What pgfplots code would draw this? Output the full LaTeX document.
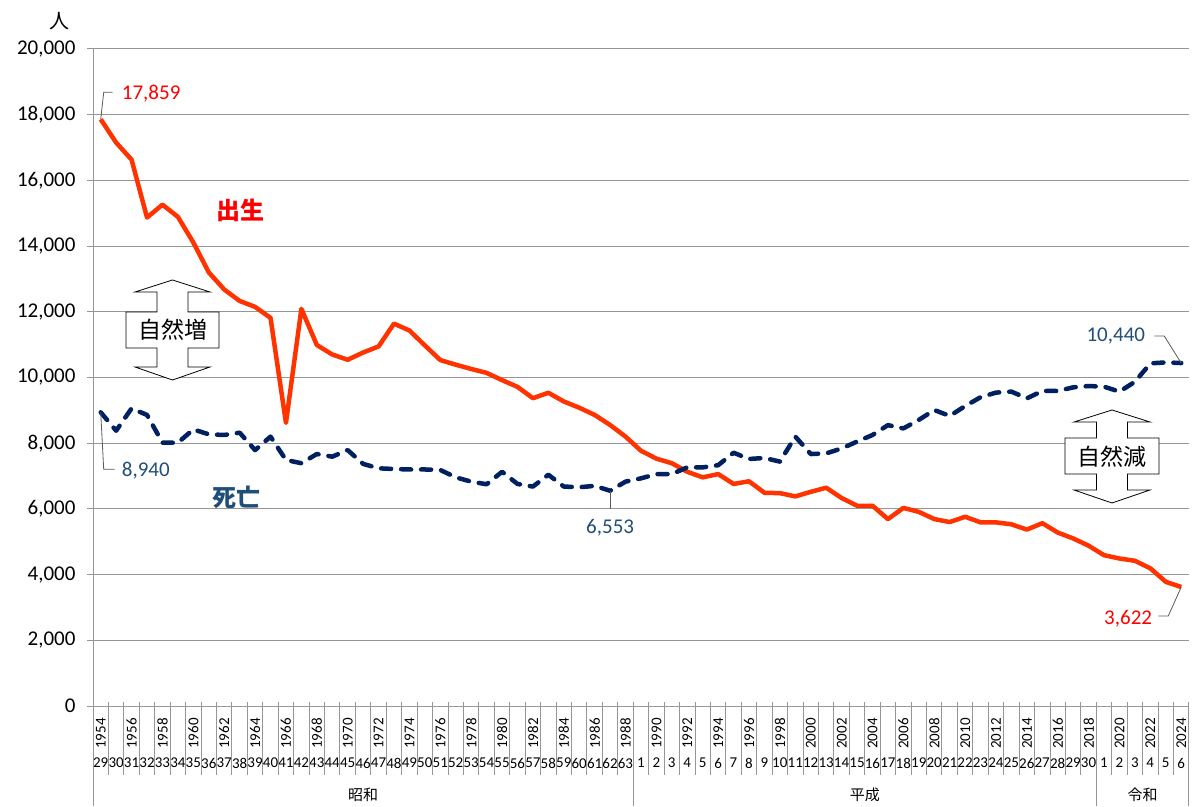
\documentclass[border=0pt]{standalone}
\usepackage{fontspec}
\setmainfont{Carlito}
\newfontfamily\jp{Noto Sans CJK JP}
\usepackage{graphicx}
\usepackage{pgfplots}
\pgfplotsset{compat=1.18}
\usepackage{pgfplotstable}

\definecolor{birthline}{RGB}{255,51,0}
\definecolor{birthtext}{RGB}{255,0,0}
\definecolor{deathline}{RGB}{0,32,96}
\definecolor{deathtext}{RGB}{31,78,121}
\definecolor{gridgray}{RGB}{150,150,150}
\definecolor{leader}{RGB}{90,90,90}

% births per year (1954-2024)
\pgfplotstableread{
year births
1954 17859
1955 17150
1956 16630
1957 14870
1958 15260
1959 14890
1960 14110
1961 13200
1962 12680
1963 12330
1964 12150
1965 11815
1966 8620
1967 12090
1968 10990
1969 10700
1970 10540
1971 10760
1972 10945
1973 11640
1974 11430
1975 10975
1976 10530
1977 10390
1978 10260
1979 10140
1980 9920
1981 9715
1982 9370
1983 9535
1984 9270
1985 9080
1986 8860
1987 8555
1988 8200
1989 7770
1990 7530
1991 7390
1992 7130
1993 6960
1994 7060
1995 6760
1996 6840
1997 6490
1998 6480
1999 6380
2000 6520
2001 6645
2002 6330
2003 6095
2004 6095
2005 5690
2006 6030
2007 5910
2008 5690
2009 5600
2010 5760
2011 5590
2012 5590
2013 5530
2014 5370
2015 5565
2016 5280
2017 5100
2018 4880
2019 4590
2020 4490
2021 4420
2022 4190
2023 3780
2024 3622
}\births

% deaths per year (1954-2024)
\pgfplotstableread{
year deaths
1954 8940
1955 8380
1956 9060
1957 8860
1958 8015
1959 8015
1960 8420
1961 8270
1962 8250
1963 8320
1964 7790
1965 8200
1966 7490
1967 7390
1968 7670
1969 7590
1970 7790
1971 7370
1972 7235
1973 7215
1974 7200
1975 7200
1976 7185
1977 6960
1978 6830
1979 6750
1980 7130
1981 6760
1982 6680
1983 7040
1984 6680
1985 6660
1986 6700
1987 6553
1988 6830
1989 6930
1990 7060
1991 7060
1992 7265
1993 7265
1994 7330
1995 7710
1996 7520
1997 7550
1998 7440
1999 8200
2000 7670
2001 7690
2002 7840
2003 8050
2004 8250
2005 8550
2006 8450
2007 8710
2008 9010
2009 8830
2010 9130
2011 9400
2012 9540
2013 9570
2014 9365
2015 9590
2016 9590
2017 9700
2018 9740
2019 9720
2020 9570
2021 9870
2022 10430
2023 10460
2024 10440
}\deaths

\begin{document}
\begin{tikzpicture}
\path[use as bounding box] (0,0) rectangle (1193pt,806pt);

\begin{axis}[
  at={(93pt,100pt)}, anchor=south west,
  width=1096pt, height=657pt, scale only axis,
  xmin=1953.5, xmax=2024.5,
  ymin=0, ymax=20000,
  clip=false,
  axis lines*=left,
  axis line style={gridgray, line width=1pt},
  ymajorgrids,
  grid style={gridgray, line width=1pt},
  tick align=outside,
  major tick length=6pt,
  ytick={0,2000,...,20000},
  scaled y ticks=false,
  ytick style={gridgray, line width=1pt},
  yticklabel style={font=\fontsize{21}{24}\selectfont, xshift=-8pt,
    /pgf/number format/assume math mode=true,
    /pgf/number format/1000 sep={,}},
  xtick={1954,...,2024},
  xticklabels={29,30,31,32,33,34,35,36,37,38,39,40,41,42,43,44,45,46,47,48,49,50,51,52,53,54,55,56,57,58,59,60,61,62,63,
    1,2,3,4,5,6,7,8,9,10,11,12,13,14,15,16,17,18,19,20,21,22,23,24,25,26,27,28,29,30,
    1,2,3,4,5,6},
  xtick style={draw=none},
  xticklabel style={font=\fontsize{15}{18}\selectfont, anchor=north, inner sep=0pt, yshift=-46pt},
  extra x ticks={1954,1956,...,2024},
  extra x tick labels={\rotatebox{90}{1954},\rotatebox{90}{1956},\rotatebox{90}{1958},\rotatebox{90}{1960},
    \rotatebox{90}{1962},\rotatebox{90}{1964},\rotatebox{90}{1966},\rotatebox{90}{1968},\rotatebox{90}{1970},
    \rotatebox{90}{1972},\rotatebox{90}{1974},\rotatebox{90}{1976},\rotatebox{90}{1978},\rotatebox{90}{1980},
    \rotatebox{90}{1982},\rotatebox{90}{1984},\rotatebox{90}{1986},\rotatebox{90}{1988},\rotatebox{90}{1990},
    \rotatebox{90}{1992},\rotatebox{90}{1994},\rotatebox{90}{1996},\rotatebox{90}{1998},\rotatebox{90}{2000},
    \rotatebox{90}{2002},\rotatebox{90}{2004},\rotatebox{90}{2006},\rotatebox{90}{2008},\rotatebox{90}{2010},
    \rotatebox{90}{2012},\rotatebox{90}{2014},\rotatebox{90}{2016},\rotatebox{90}{2018},\rotatebox{90}{2020},
    \rotatebox{90}{2022},\rotatebox{90}{2024}},
  extra x tick style={grid=none, tick style={draw=none}, xticklabel style={yshift=40pt}},
]

\addplot[birthline, line width=4.5pt, line join=round] table[x=year, y=births] {\births};
\addplot[deathline, line width=4.5pt, line cap=round, line join=round,
  dash pattern=on 10pt off 10pt] table[x=year, y=deaths] {\deaths};

% category separators under the axis
\pgfplotsinvokeforeach{1953.5,1954.5,...,2024.5}{
  \draw[gridgray, line width=1pt] ([yshift=4pt]axis cs:#1,0) -- ([yshift=-69pt]axis cs:#1,0);
}
\pgfplotsinvokeforeach{1953.5,1988.5,2018.5,2024.5}{
  \draw[gridgray, line width=1pt] (axis cs:#1,0) -- ([yshift=-100pt]axis cs:#1,0);
}
\node[font=\jp\fontsize{15}{18}\selectfont] at ([yshift=-89pt]axis cs:1971,0) {昭和};
\node[font=\jp\fontsize{15}{18}\selectfont] at ([yshift=-89pt]axis cs:2003.5,0) {平成};
\node[font=\jp\fontsize{15}{18}\selectfont] at ([yshift=-89pt]axis cs:2021.5,0) {令和};

% value labels with leader lines
\draw[leader, line width=0.8pt] (axis cs:1954,17859) -- ++(3pt,27pt) -- ++(9pt,0pt);
\node[anchor=west, inner sep=0pt, text=birthtext, font=\fontsize{21}{24}\selectfont]
  at ([xshift=21pt,yshift=26pt]axis cs:1954,17859) {17,859};
\draw[leader, line width=0.8pt] (axis cs:1954,8940) -- ++(3pt,-57pt) -- ++(11pt,0pt);
\node[anchor=west, inner sep=0pt, text=deathtext, font=\fontsize{21}{24}\selectfont]
  at ([xshift=21pt,yshift=-58pt]axis cs:1954,8940) {8,940};
\draw[leader, line width=0.8pt] (axis cs:1987,6553) -- ++(0pt,-18pt);
\node[inner sep=0pt, text=deathtext, font=\fontsize{21}{24}\selectfont]
  at ([yshift=-37pt]axis cs:1987,6553) {6,553};
\draw[leader, line width=0.8pt] (axis cs:2024,10440) -- ++(-17pt,27pt) -- ++(-10pt,0pt);
\node[anchor=east, inner sep=0pt, text=deathtext, font=\fontsize{21}{24}\selectfont]
  at ([xshift=-36pt,yshift=27pt]axis cs:2024,10440) {10,440};
\draw[leader, line width=0.8pt] (axis cs:2024,3622) -- ++(-13pt,-29pt) -- ++(-10pt,0pt);
\node[anchor=east, inner sep=0pt, text=birthtext, font=\fontsize{21}{24}\selectfont]
  at ([xshift=-29pt,yshift=-32pt]axis cs:2024,3622) {3,622};

% series names
\node[text=birthtext, font=\jp\bfseries\fontsize{24}{28}\selectfont] at (axis cs:1963.07,15100) {出生};
\node[text=deathtext, font=\jp\bfseries\fontsize{24}{28}\selectfont] at (axis cs:1962.81,6360) {死亡};
\end{axis}

% y unit
\node[font=\jp\fontsize{20}{24}\selectfont] at (59pt,785pt) {人};

% double arrow callouts (pixel coordinates, y down)
\begin{scope}[shift={(0pt,806pt)}, x=1pt, y=-1pt]
  \draw[black, line width=0.8pt, fill=white]
    (172.5,280) -- (210,292) -- (188,292) -- (188,312) -- (219,312) -- (219,348) -- (188,348)
    -- (188,367) -- (210,367) -- (172.5,380) -- (135,367) -- (157,367) -- (157,348) -- (126,348)
    -- (126,312) -- (157,312) -- (157,292) -- (135,292) -- cycle;
  \node[font=\jp\fontsize{23}{26}\selectfont] at (172.5,330) {自然増};
  \draw[black, line width=0.8pt, fill=white]
    (1112,410) -- (1150,422) -- (1127.5,422) -- (1127.5,438) -- (1159,438) -- (1159,474) -- (1127.5,474)
    -- (1127.5,490) -- (1150,490) -- (1112,503) -- (1074,490) -- (1096.5,490) -- (1096.5,474) -- (1065,474)
    -- (1065,438) -- (1096.5,438) -- (1096.5,422) -- (1074,422) -- cycle;
  \node[font=\jp\fontsize{23}{26}\selectfont] at (1112,457) {自然減};
\end{scope}
\end{tikzpicture}
\end{document}
